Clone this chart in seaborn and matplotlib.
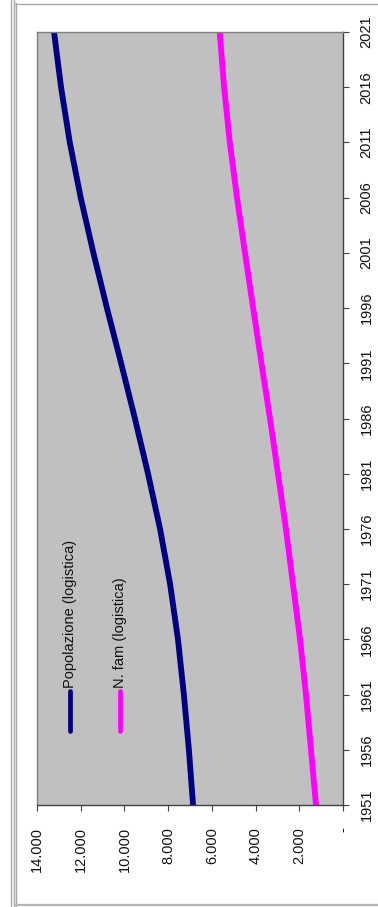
import matplotlib
matplotlib.use("Agg")
import matplotlib.pyplot as plt
import pandas as pd
import seaborn as sns
from matplotlib.lines import Line2D

# Logistic estimates, every five years
years = [1951, 1956, 1961, 1966, 1971, 1976, 1981, 1986,
         1991, 1996, 2001, 2006, 2011, 2016, 2021]
popolazione = [6860, 7050, 7280, 7550, 7910, 8370, 8920, 9520,
               10150, 10800, 11420, 12000, 12500, 12900, 13220]
famiglie = [1235, 1465, 1695, 1965, 2290, 2610, 2975, 3340,
            3730, 4110, 4485, 4850, 5180, 5440, 5640]

series_names = ["Popolazione (logistica)", "N. fam (logistica)"]
series_colors = ["#000080", "#FF00FF"]
value_ticks = [0, 2000, 4000, 6000, 8000, 10000, 12000, 14000]

sns.set_theme(style="white")
plt.rcParams["font.family"] = ["Liberation Sans", "DejaVu Sans"]

df = pd.concat([
    pd.DataFrame({"anno": years, "valore": popolazione, "serie": series_names[0]}),
    pd.DataFrame({"anno": years, "valore": famiglie, "serie": series_names[1]}),
])

W, H = 378, 907
fig = plt.figure(figsize=(W / 100, H / 100), dpi=100)
fig.patch.set_facecolor("white")

# page and chart-area frame lines
for xp in (10.5, 13.5):
    fig.add_artist(Line2D([xp / W, xp / W], [0, 1], transform=fig.transFigure,
                          color="#A8A8A8", lw=1.0))
fig.add_artist(Line2D([15.5 / W, 15.5 / W], [1 - 3 / H, 1 - 906 / H],
                      transform=fig.transFigure, color="#A8A8A8", lw=1.0))
fig.add_artist(Line2D([15 / W, 1], [1 - 3.5 / H, 1 - 3.5 / H],
                      transform=fig.transFigure, color="#A8A8A8", lw=1.0))
fig.add_artist(Line2D([15 / W, 1], [1 - 905 / H, 1 - 905 / H],
                      transform=fig.transFigure, color="#B4B4B4", lw=1.6))

ax = fig.add_axes([37 / W, 102 / H, 306 / W, 773 / H])
ax.set_facecolor("#C0C0C0")

sns.lineplot(data=df, x="valore", y="anno", hue="serie",
             hue_order=series_names, palette=series_colors,
             orient="y", estimator=None, legend=False, lw=4.2, ax=ax)

ax.set_xlim(14000, 0)
ax.set_ylim(1951, 2021)
ax.set_xlabel("")
ax.set_ylabel("")

def fmt(v):
    return "-" if v == 0 else f"{v:,}".replace(",", ".")

ax.set_xticks(value_ticks)
ax.set_xticklabels([fmt(v) for v in value_ticks], rotation=90,
                   ha="center", va="top", fontsize=10.5, color="#111111")
ax.yaxis.tick_right()
ax.set_yticks(years)
ax.set_yticklabels([str(y) for y in years], rotation=90,
                   va="center", fontsize=10.5, color="#111111")
ax.tick_params(axis="x", direction="out", length=4, width=0.8,
               color="#404040", pad=12, bottom=True)
ax.tick_params(axis="y", direction="out", length=4, width=0.8,
               color="#404040", pad=8, right=True, left=False)

for side in ("top", "left"):
    ax.spines[side].set_color("#808080")
    ax.spines[side].set_linewidth(1.0)
for side in ("bottom", "right"):
    ax.spines[side].set_color("#404040")
    ax.spines[side].set_linewidth(1.0)

# legend drawn upright along the plot
for xf, name, col in zip([0.108, 0.271], series_names, series_colors):
    ax.add_line(Line2D([xf, xf], [0.096, 0.147], transform=ax.transAxes,
                       color=col, lw=3.4, solid_capstyle="round"))
    ax.text(xf, 0.151, name, rotation=90, ha="center", va="bottom",
            transform=ax.transAxes, fontsize=10.5, color="#111111")

fig.savefig("out.png", dpi=100)
